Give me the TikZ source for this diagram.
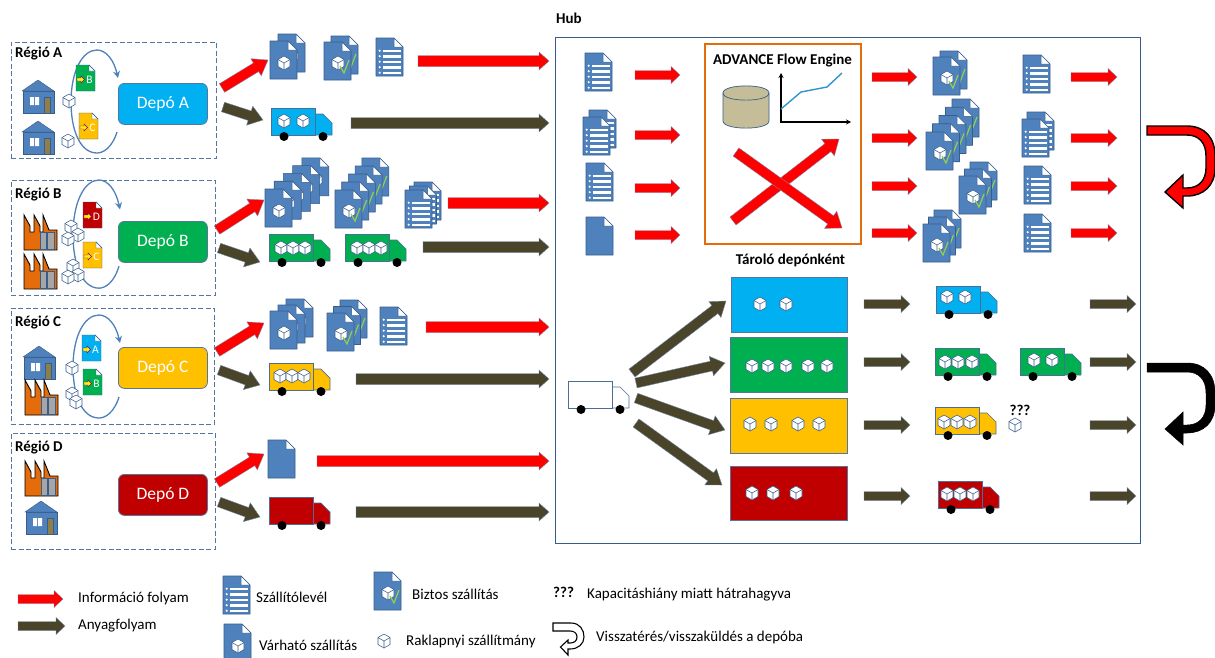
\documentclass[tikz,border=0pt]{standalone}
\usepackage{fontspec}
\setmainfont{Carlito}
\usetikzlibrary{calc,arrows.meta}
\definecolor{docblue}{HTML}{4F81BD}
\definecolor{edgeblue}{HTML}{385D8A}
\definecolor{matdark}{HTML}{4A452A}
\definecolor{cA}{HTML}{00B0F0}
\definecolor{cB}{HTML}{00B050}
\definecolor{cC}{HTML}{FFC000}
\definecolor{cD}{HTML}{C00000}
\definecolor{orangeb}{HTML}{E46C0A}
\definecolor{chk}{HTML}{92D050}
\definecolor{doorc}{HTML}{8E7F4A}
\definecolor{tank}{HTML}{C4BD97}
\definecolor{loopc}{HTML}{4F81BD}
\newcounter{arw}
\tikzset{
  regionbox/.style={draw=edgeblue!85,dashed,dash pattern=on 5pt off 2.5pt,line width=.7pt},
  depobox/.style={draw=edgeblue!85,line width=.8pt,rounded corners=6pt,text=white,font=\fontsize{17.5}{19}\selectfont,inner sep=0pt},
  storebox/.style={draw=edgeblue!85,line width=.8pt},
  lab/.style={anchor=west,inner sep=0pt,font=\fontsize{15}{17}\selectfont},
  blab/.style={anchor=west,inner sep=0pt,font=\bfseries\fontsize{15}{17}\selectfont},
  infoarrow/.style={fill=red,draw=edgeblue!70,line width=.35pt},
  matarrow/.style={fill=matdark,draw=edgeblue!70,line width=.35pt},
  docbody/.style={fill=docblue,draw=edgeblue,line width=.6pt,line join=round},
  cubeline/.style={draw=edgeblue,line width=.55pt,line join=round},
}
% block arrow: style, x1,y1,x2,y2, half shaft, half head, head length
\newcommand\barrow[8]{%
  \stepcounter{arw}%
  \coordinate (s\thearw) at (#2,#3);
  \coordinate (e\thearw) at (#4,#5);
  \coordinate (h\thearw) at ($(e\thearw)!#8pt!(s\thearw)$);
  \path[#1] ($(s\thearw)!#6pt!90:(e\thearw)$) -- ($(h\thearw)!#6pt!90:(e\thearw)$)
    -- ($(h\thearw)!#7pt!90:(e\thearw)$) -- (e\thearw)
    -- ($(h\thearw)!#7pt!-90:(e\thearw)$) -- ($(h\thearw)!#6pt!-90:(e\thearw)$)
    -- ($(s\thearw)!#6pt!-90:(e\thearw)$) -- cycle;
}
\newcommand\bigarrow[5]{\barrow{#1}{#2}{#3}{#4}{#5}{5}{10}{14}}
\newcommand\smallarrow[4]{\barrow{#1}{#2}{#4}{#3}{#4}{4.5}{8.5}{9}}
\newcommand\longarrow[4]{\barrow{#1}{#2}{#4}{#3}{#4}{5.5}{9}{10}}
\newcommand\cube[3][7]{%
  \begin{scope}[shift={(#2,#3)},scale=#1/7]
    \path[cubeline,fill=white] (0,-7)--(6,-3.5)--(6,3.5)--(0,7)--(-6,3.5)--(-6,-3.5)--cycle;
    \path[cubeline] (-6,-3.5)--(0,0)--(6,-3.5) (0,0)--(0,7);
  \end{scope}}
\newcommand\docshape{%
  \path[docbody] (0,0)--(18,0)--(27,9)--(27,38)--(0,38)--cycle;
  \path[fill=white,draw=edgeblue,line width=.5pt,line join=round] (18,0)--(18,9)--(27,9)--cycle;}
\newcommand\plaindoc[2]{\begin{scope}[shift={(#1,#2)}]\docshape\end{scope}}
\newcommand\listdoc[2]{\begin{scope}[shift={(#1,#2)}]\docshape
  \foreach \r in {13,18.5,24,29.5,35}{
    \fill[white] (6.5,\r-1.5) rectangle (25,\r+1);
    \fill[white] (3.7,\r-.3) circle (1.2pt);}
  \end{scope}}
\newcommand\cubedoc[2]{\begin{scope}[shift={(#1,#2)}]\docshape\cube{14}{22}\end{scope}}
\newcommand\checkdoc[2]{\begin{scope}[shift={(#1,#2)}]\docshape\cube{14}{21}
  \draw[chk,line width=1.2pt] (16,24)--(20,31)--(25,18);\end{scope}}
% stack: macro, front x, front y, dx, dy, number behind the front one
\newcommand\stack[6]{\foreach \i in {#6,...,0}{#1{\fpeval{#2+\i*(#4)}}{\fpeval{#3+\i*(#5)}}}}
\newcommand\truck[3]{\begin{scope}[shift={(#1,#2)}]
  \path[fill=#3,draw=edgeblue!90,line width=.7pt,line join=round] (44,6)--(52,6)--(61,15)--(61,27)--(44,27)--cycle;
  \path[fill=#3,draw=edgeblue!90,line width=.7pt] (0,0) rectangle (44,27);
  \fill[black] (13,28.5) circle (4.5pt) (52,28.5) circle (4.5pt);
  \end{scope}}
\newcommand\house[2]{\begin{scope}[shift={(#1,#2)}]
  \path[fill=docblue,draw=edgeblue,line width=.4pt] (1,11) rectangle (32,33);
  \path[fill=docblue,draw=edgeblue,line width=.4pt] (0,11)--(16,0)--(32,11)--cycle;
  \fill[white] (8,17) rectangle (12.2,25) (13,17) rectangle (17,25);
  \path[fill=doorc,draw=edgeblue,line width=.4pt] (22,17) rectangle (28,33);
  \end{scope}}
\newcommand\factory[2]{\begin{scope}[shift={(#1,#2)}]
  \path[fill=orangeb,draw=black,line width=.9pt,line join=miter] (0,35)--(0,0)--(6,11)--(6,17)--(10,17)--(10,0)--(16,11)--(16,17)--(19,17)--(19,0)--(25,15)--(33,15)--(33,35)--cycle;
  \path[fill=black!35,draw=edgeblue,line width=.5pt] (16,17.5) rectangle (22.5,34) (23,17.5) rectangle (30,34);
  \end{scope}}
\newcommand\minidoc[4]{\begin{scope}[shift={(#1,#2)}]
  \path[fill=#3,draw=edgeblue,line width=.4pt] (0,0)--(13,0)--(19,6)--(19,26)--(0,26)--cycle;
  \path[fill=white,draw=edgeblue,line width=.4pt] (13,0)--(13,6)--(19,6)--cycle;
  \path[fill=yellow,draw=violet,line width=.4pt] (1,13)--(5,13)--(5,11)--(8.5,14.5)--(5,18)--(5,16)--(1,16)--cycle;
  \node[text=white,inner sep=0pt,font=\fontsize{11.5}{12}\selectfont] (mini#4#1) at (13.5,15) {#4};
  \end{scope}}
\newcommand\looparrow[3]{\begin{scope}[shift={(#1,#2)},yscale=#3]
  \draw[loopc,line width=1.3pt,-{Stealth[length=7pt,width=7pt]}] (46,82) .. controls (41,98) and (32,103) .. (26,103) .. controls (9,103) and (0,80) .. (0,52) .. controls (0,22) and (11,0) .. (26,0) .. controls (35,0) and (43,10) .. (47,28);
  \end{scope}}
\newcommand\uturn[4]{\begin{scope}[shift={(#1,#2)},#3]
  \path[#4] (0,0)--(40,0) .. controls (58,0) and (68,12) .. (68,30) -- (68,42) .. controls (68,60) and (56,70) .. (40,70) -- (36,70)--(36,82)--(18,66)--(36,49)--(36,62)--(40,62) .. controls (52,62) and (59,54) .. (59,42) -- (59,30) .. controls (59,17) and (52,9) .. (40,9) -- (0,9) -- cycle;
  \end{scope}}
\begin{document}
\begin{tikzpicture}[x=1pt,y=-1pt]
\useasboundingbox (0,0) rectangle (1215,657);
\fill[white] (0,0) rectangle (1215,657);

% regions
\node[regionbox,minimum width=205pt,minimum height=116pt,anchor=north west] (regA) at (11,42) {};
\node[regionbox,minimum width=204pt,minimum height=115pt,anchor=north west] (regB) at (11,180) {};
\node[regionbox,minimum width=203pt,minimum height=116pt,anchor=north west] (regC) at (11,308) {};
\node[regionbox,minimum width=204pt,minimum height=116pt,anchor=north west] (regD) at (11,433) {};
\node[blab] (tA) at (15,54) {Régió A};
\node[blab] (tB) at (15,195) {Régió B};
\node[blab] (tC) at (15,322) {Régió C};
\node[blab] (tD) at (15,447) {Régió D};
\node[depobox,fill=cA,minimum width=89pt,minimum height=41pt,anchor=north west] (depA) at (118,83) {Depó A};
\node[depobox,fill=cB,minimum width=89pt,minimum height=41pt,anchor=north west] (depB) at (118,221) {Depó B};
\node[depobox,fill=cC,minimum width=89pt,minimum height=41pt,anchor=north west] (depC) at (118,347) {Depó C};
\node[depobox,fill=cD,minimum width=89pt,minimum height=41pt,anchor=north west] (depD) at (118,474) {Depó D};

% region A contents
\house{22}{80}\house{22}{121}
\looparrow{71}{50}{1}
\minidoc{76}{65}{cB}{B}\minidoc{79}{113}{cC}{C}
\cube{69}{101}\cube{68}{141}
% region B contents
\factory{24}{215}\factory{24}{254}
\looparrow{73}{180}{1.05}
\minidoc{83}{202}{cD}{D}\minidoc{83}{242}{cC}{C}
\cube{71}{227}\cube{78}{235}\cube{68}{239}
\cube{73}{266}\cube{78}{275}\cube{68}{277}
% region C contents
\house{23}{346}\factory{25}{380}
\looparrow{73}{315}{1}
\minidoc{82}{335}{cA}{A}\minidoc{83}{369}{cB}{B}
\cube{72}{368}\cube{72}{394}\cube{76}{402}
% region D contents
\factory{25}{461}\house{25}{501}

% region docs
\stack\cubedoc{270}{41}{8}{-7}{1}
\stack\checkdoc{324}{42}{7}{-6}{1}
\listdoc{376}{38}
\stack\cubedoc{265}{189}{9.2}{-7.8}{4}
\stack\checkdoc{335}{190}{6.7}{-8}{4}
\stack\listdoc{405}{190}{4.5}{-4}{2}
\stack\cubedoc{270}{311}{8}{-6}{2}
\stack\checkdoc{327}{313}{6.5}{-6.5}{2}
\listdoc{380}{307}
\plaindoc{268}{440}

% region trucks
\truck{271}{108}{cA}\cube{284}{121}\cube{303}{121}
\truck{269}{234}{cB}\cube{281}{248}\cube{293}{248}\cube{305}{248}
\truck{345}{234}{cB}\cube{357}{248}\cube{369}{248}\cube{381}{248}
\truck{269}{363}{cC}\cube{280}{376}\cube{292}{376}\cube{304}{376}
\truck{269}{497}{cD}

% region arrows
\bigarrow{infoarrow}{222}{88}{268}{60}
\bigarrow{matarrow}{223}{107}{263}{120}
\bigarrow{infoarrow}{217}{230}{264}{200}
\bigarrow{matarrow}{219}{248}{260}{262}
\bigarrow{infoarrow}{217}{352}{264}{323}
\bigarrow{matarrow}{219}{370}{260}{385}
\bigarrow{infoarrow}{217}{483}{264}{454}
\bigarrow{matarrow}{219}{502}{260}{517}
\longarrow{infoarrow}{418}{549}{61}
\longarrow{matarrow}{351}{549}{123}
\longarrow{infoarrow}{448}{549}{203}
\longarrow{matarrow}{423}{549}{247}
\longarrow{infoarrow}{426}{549}{327}
\longarrow{matarrow}{356}{549}{379}
\longarrow{infoarrow}{317}{549}{461}
\longarrow{matarrow}{356}{549}{512}

% hub
\node[draw=edgeblue,line width=.8pt,minimum width=585pt,minimum height=506pt,anchor=north west] (hub) at (555,37) {};
\node[blab] (thub) at (556,18) {Hub};

% hub left
\listdoc{585}{53}
\listdoc{589}{110}\listdoc{583}{117}
\listdoc{586}{163}
\plaindoc{586}{217}
\smallarrow{infoarrow}{635}{680}{75}
\smallarrow{infoarrow}{635}{680}{135}
\smallarrow{infoarrow}{635}{680}{188}
\smallarrow{infoarrow}{635}{680}{235}

% engine
\node[draw=orangeb,line width=1.9pt,minimum width=156pt,minimum height=200pt,anchor=north west] (eng) at (704,43) {};
\node[anchor=center,inner sep=0pt,font=\bfseries\fontsize{15}{17}\selectfont] (teng) at (782.5,60.5) {ADVANCE Flow Engine};
\path[fill=tank,draw=edgeblue,line width=.7pt] (723,93) -- (723,121) .. controls (723,130.5) and (769,130.5) .. (769,121) -- (769,93) .. controls (769,83.5) and (723,83.5) .. (723,93) -- cycle;
\draw[edgeblue,line width=.7pt] (723,93) .. controls (723,102.5) and (769,102.5) .. (769,93);
\draw[line width=1.4pt,black,{Stealth[length=5pt,width=5pt]}-{Stealth[length=5pt,width=5pt]}] (781,73) -- (781,122) -- (851,122);
\draw[cA!40!docblue,line width=1.4pt] (781,109)--(801,92)--(827,87)--(842,73);
\barrow{infoarrow}{733}{221}{839}{139}{5}{10.5}{14}
\barrow{infoarrow}{736}{152}{842}{228}{5}{10.5}{14}

% hub right
\foreach \y in {77,138,186,233}{
  \smallarrow{infoarrow}{872}{917}{\y}
  \smallarrow{infoarrow}{1071}{1117}{\y}
}
\stack\checkdoc{933}{57}{7}{-6}{1}
\stack\checkdoc{926}{132}{6.5}{-8.25}{4}
\stack\checkdoc{959}{176}{5.5}{-7}{2}
\stack\checkdoc{923}{224}{5.5}{-7}{2}
\listdoc{1023}{55}
\listdoc{1027}{112}\listdoc{1022}{119}
\listdoc{1024}{166}
\listdoc{1024}{214}

% storage
\node[blab,anchor=center] (tstore) at (790.5,260) {Tároló depónként};
\node[storebox,fill=cA,minimum width=116pt,minimum height=55pt,anchor=north west] (stA) at (731,277) {};
\node[storebox,fill=cB,minimum width=117pt,minimum height=55pt,anchor=north west] (stB) at (730,337) {};
\node[storebox,fill=cC,minimum width=117pt,minimum height=55pt,anchor=north west] (stC) at (730,398) {};
\node[storebox,fill=cD,minimum width=117pt,minimum height=54pt,anchor=north west] (stD) at (730,466) {};
\foreach \x in {760,786}{\cube{\x}{304}}
\foreach \x in {752,768,786,808,827}{\cube{\x}{366}}
\foreach \x in {750,771,798,819}{\cube{\x}{424}}
\foreach \x in {752,773,796}{\cube{\x}{493}}
\truck{568}{381}{white}
\barrow{matarrow}{632}{373}{726}{301}{5}{10}{14}
\barrow{matarrow}{636}{383}{725}{363}{5}{10}{14}
\barrow{matarrow}{636}{398}{725}{430}{5}{10}{14}
\barrow{matarrow}{636}{423}{722}{485}{5}{10}{14}
\foreach \y in {304,362,425,496}{
  \smallarrow{matarrow}{864}{910}{\y}
  \smallarrow{matarrow}{1090}{1136}{\y}
}
\truck{936}{286}{cA}\cube{947}{297}\cube{965}{297}
\truck{935}{348}{cB}\cube{945}{362}\cube{958}{362}\cube{972}{362}
\truck{1020}{348}{cB}\cube{1034}{360}\cube{1052}{360}
\truck{935}{407}{cC}\cube{944}{422}\cube{957}{422}\cube{970}{422}
\truck{938}{481}{cD}\cube{947}{494}\cube{960}{494}\cube{973}{494}
\node[blab,anchor=center] (qq) at (1020,410) {???};
\cube{1015}{425}

% return arrows
\uturn{1147}{126}{scale=1}{fill=red,draw=black,line width=1.4pt,line join=miter}
\uturn{1147}{363}{scale=1}{fill=black,draw=black,line width=.5pt}

% legend
\smallarrow{infoarrow}{18}{63}{599}
\smallarrow{matarrow}{18}{65}{626}
\node[lab] (l1) at (78,598) {Információ folyam};
\node[lab] (l2) at (78,626) {Anyagfolyam};
\listdoc{223}{576}
\node[lab] (l3) at (256,597) {Szállítólevél};
\cubedoc{224}{624}
\node[lab] (l4) at (259,645) {Várható szállítás};
\checkdoc{374}{572}
\node[lab] (l5) at (412,594) {Biztos szállítás};
\cube{384}{641}
\node[lab] (l6) at (406,641) {Raklapnyi szállítmány};
\node[blab] (l7) at (553,592) {???};
\node[lab] (l8) at (587,595) {Kapacitáshiány miatt hátrahagyva};
\begin{scope}[shift={(553,623)}]
  \path[fill=white,draw=black,line width=1.1pt,line join=miter] (0,0)--(18,0) .. controls (27,0) and (31,7) .. (31,14) .. controls (31,21) and (25,26) .. (17,26)--(15,26)--(15,32)--(7.5,24)--(15,17)--(15,20)--(17,20) .. controls (21,20) and (24,18) .. (24,14) .. controls (24,10) and (21,8) .. (17,8)--(0,8)--cycle;
\end{scope}
\node[lab] (l9) at (596,637) {Visszatérés/visszaküldés a depóba};
\end{tikzpicture}
\end{document}
